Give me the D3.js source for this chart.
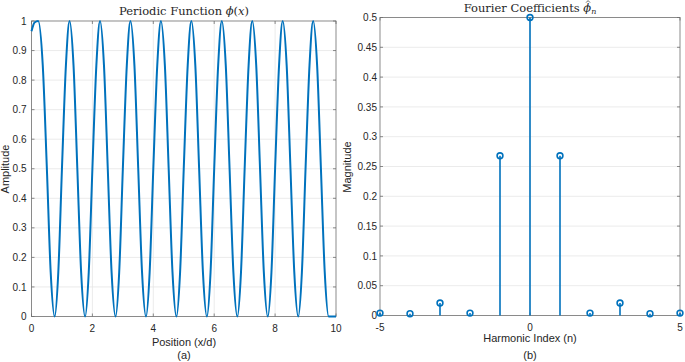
<!DOCTYPE html>
<html>
<head>
<meta charset="utf-8">
<script src="https://cdn.jsdelivr.net/npm/d3@7"></script>
<style>
  html, body { margin: 0; padding: 0; background: #fff; }
  svg text { font-family: "Liberation Sans", Arial, sans-serif; fill: #262626; }
  .ttl { font-family: "DejaVu Serif", "Liberation Serif", serif; }
</style>
</head>
<body>
<div id="chart"></div>
<script>
const phiX = [0, 0.1, 0.22, 0.37, 0.505, 0.63, 0.76, 0.88, 1.0, 1.13,
  1.25, 1.38, 1.505, 1.63, 1.76, 1.88, 2.0, 2.13,
  2.25, 2.38, 2.505, 2.63, 2.76, 2.88, 3.0, 3.13,
  3.25, 3.38, 3.505, 3.63, 3.76, 3.88, 4.0, 4.13,
  4.25, 4.38, 4.505, 4.63, 4.76, 4.88, 5.0, 5.13,
  5.25, 5.38, 5.505, 5.63, 5.76, 5.88, 6.0, 6.13,
  6.25, 6.38, 6.505, 6.63, 6.76, 6.88, 7.0, 7.13,
  7.25, 7.38, 7.505, 7.63, 7.76, 7.88, 8.0, 8.13,
  8.25, 8.38, 8.505, 8.63, 8.76, 8.88, 9.0, 9.13,
  9.25, 9.38, 9.505, 9.63, 9.76, 10];
const phiY = [0.965, 0.995, 1, 0.85, 0.5, 0.15, 0, 0.15, 0.5, 0.85,
  1, 0.85, 0.5, 0.15, 0, 0.15, 0.5, 0.85,
  1, 0.85, 0.5, 0.15, 0, 0.15, 0.5, 0.85,
  1, 0.85, 0.5, 0.15, 0, 0.15, 0.5, 0.85,
  1, 0.85, 0.5, 0.15, 0, 0.15, 0.5, 0.85,
  1, 0.85, 0.5, 0.15, 0, 0.15, 0.5, 0.85,
  1, 0.85, 0.5, 0.15, 0, 0.15, 0.5, 0.85,
  1, 0.85, 0.5, 0.15, 0, 0.15, 0.5, 0.85,
  1, 0.85, 0.5, 0.15, 0, 0.15, 0.5, 0.85,
  1, 0.85, 0.5, 0.15, 0, 0];

// right panel: harmonic index and coefficient magnitude
const harmonics = [-5, -4, -3, -2, -1, 0, 1, 2, 3, 4, 5];
const coeffs = [0.004, 0.003, 0.021, 0.004, 0.268, 0.5, 0.268, 0.004, 0.021, 0.003, 0.004];

const leftXTicks = [0, 2, 4, 6, 8, 10];
const leftYTicks = [0, 0.1, 0.2, 0.3, 0.4, 0.5, 0.6, 0.7, 0.8, 0.9, 1];
const rightXTicks = [-5, 0, 5];
const rightYTicks = [0, 0.05, 0.1, 0.15, 0.2, 0.25, 0.3, 0.35, 0.4, 0.45, 0.5];

const W = 685, H = 362;
const blue = "#0072BD";
const gridCol = "#e6e6e6";
const axisCol = "#6e6e6e";

const svg = d3.select("#chart").append("svg")
  .attr("width", W).attr("height", H);

// draws grid, box, inward ticks and tick labels for one panel
function drawFrame(x, y, xt, yt, yLabelX) {
  const [x0, x1] = x.range();
  const [y0, y1] = y.range(); // y0 bottom, y1 top
  const g = svg.append("g");

  g.selectAll(".gx").data(xt.filter(t => t !== x.domain()[0] && t !== x.domain()[1]))
    .join("line")
    .attr("x1", d => x(d)).attr("x2", d => x(d))
    .attr("y1", y0).attr("y2", y1)
    .attr("stroke", gridCol).attr("stroke-width", 0.8);
  g.selectAll(".gy").data(yt.filter(t => t !== y.domain()[0] && t !== y.domain()[1]))
    .join("line")
    .attr("x1", x0).attr("x2", x1)
    .attr("y1", d => y(d)).attr("y2", d => y(d))
    .attr("stroke", gridCol).attr("stroke-width", 0.8);

  g.append("rect")
    .attr("x", x0).attr("y", y1)
    .attr("width", x1 - x0).attr("height", y0 - y1)
    .attr("fill", "none").attr("stroke", axisCol).attr("stroke-width", 0.8);

  const tl = 3;
  xt.forEach(t => {
    g.append("line").attr("x1", x(t)).attr("x2", x(t)).attr("y1", y0).attr("y2", y0 - tl)
      .attr("stroke", axisCol).attr("stroke-width", 0.8);
    g.append("line").attr("x1", x(t)).attr("x2", x(t)).attr("y1", y1).attr("y2", y1 + tl)
      .attr("stroke", axisCol).attr("stroke-width", 0.8);
  });
  yt.forEach(t => {
    g.append("line").attr("x1", x0).attr("x2", x0 + tl).attr("y1", y(t)).attr("y2", y(t))
      .attr("stroke", axisCol).attr("stroke-width", 0.8);
    g.append("line").attr("x1", x1).attr("x2", x1 - tl).attr("y1", y(t)).attr("y2", y(t))
      .attr("stroke", axisCol).attr("stroke-width", 0.8);
  });

  g.selectAll(".xl").data(xt).join("text")
    .attr("x", d => x(d)).attr("y", y0 + 15)
    .attr("text-anchor", "middle").style("font-size", "10px")
    .text(d => String(d));
  g.selectAll(".yl").data(yt).join("text")
    .attr("x", yLabelX).attr("y", d => y(d) + 3.6)
    .attr("text-anchor", "end").style("font-size", "10px")
    .text(d => String(+d.toFixed(2)));
  return g;
}

// ---- left panel ----
const xL = d3.scaleLinear().domain([0, 10]).range([31.5, 336]);
const yL = d3.scaleLinear().domain([0, 1]).range([316.5, 21]);
drawFrame(xL, yL, leftXTicks, leftYTicks, 26.5);

const line = d3.line()
  .x(d => xL(d[0])).y(d => yL(d[1]))
  .curve(d3.curveMonotoneX);
svg.append("path")
  .datum(phiX.map((v, i) => [v, phiY[i]]))
  .attr("d", line)
  .attr("fill", "none").attr("stroke", blue).attr("stroke-width", 2);

// title with math
const t1 = svg.append("text").attr("class", "ttl")
  .attr("x", 184).attr("y", 14.5).attr("text-anchor", "middle")
  .style("font-size", "11.5px");
t1.append("tspan").text("Periodic Function ");
t1.append("tspan").style("font-style", "italic").text("ϕ");
t1.append("tspan").text("(");
t1.append("tspan").style("font-style", "italic").text("x");
t1.append("tspan").text(")");

svg.append("text").attr("x", 184).attr("y", 345.5).attr("text-anchor", "middle")
  .style("font-size", "11px").text("Position (x/d)");
svg.append("text").attr("x", 184).attr("y", 358.5).attr("text-anchor", "middle")
  .style("font-size", "11px").text("(a)");
svg.append("text").attr("transform", "translate(9,169) rotate(-90)")
  .attr("text-anchor", "middle").style("font-size", "11px").text("Amplitude");

// ---- right panel ----
const xR = d3.scaleLinear().domain([-5, 5]).range([380, 680]);
const yR = d3.scaleLinear().domain([0, 0.5]).range([315.5, 17.5]);
drawFrame(xR, yR, rightXTicks, rightYTicks, 377);

const stems = svg.append("g");
stems.selectAll("line").data(harmonics).join("line")
  .attr("x1", d => xR(d)).attr("x2", d => xR(d))
  .attr("y1", yR(0)).attr("y2", (d, i) => yR(coeffs[i]))
  .attr("stroke", blue).attr("stroke-width", 1.6);
stems.selectAll("circle").data(harmonics).join("circle")
  .attr("cx", d => xR(d)).attr("cy", (d, i) => yR(coeffs[i]))
  .attr("r", 2.9)
  .attr("fill", "none").attr("stroke", blue).attr("stroke-width", 1.6);

const t2pre = "Fourier Coefficients ";
const t2 = svg.append("text").attr("class", "ttl")
  .attr("x", 530).attr("y", 11.5).attr("text-anchor", "middle")
  .style("font-size", "11.5px");
t2.append("tspan").text(t2pre);
t2.append("tspan").style("font-style", "italic").text("ϕ");
t2.append("tspan").style("font-style", "italic").style("font-size", "8px")
  .attr("dy", 2.5).text("n");
// hat over phi, drawn as a small chevron
const n2 = t2.node();
const hs = n2.getStartPositionOfChar(t2pre.length);
const he = n2.getEndPositionOfChar(t2pre.length);
const hc = (hs.x + he.x) / 2 + 0.8;
svg.append("path")
  .attr("d", `M${hc - 2},2.6L${hc},0.6L${hc + 2},2.6`)
  .attr("fill", "none").attr("stroke", "#262626").attr("stroke-width", 0.7);

svg.append("text").attr("x", 530).attr("y", 342).attr("text-anchor", "middle")
  .style("font-size", "11px").text("Harmonic Index (n)");
svg.append("text").attr("x", 530).attr("y", 358.5).attr("text-anchor", "middle")
  .style("font-size", "11px").text("(b)");
svg.append("text").attr("transform", "translate(351,167) rotate(-90)")
  .attr("text-anchor", "middle").style("font-size", "11px").text("Magnitude");
</script>
</body>
</html>
